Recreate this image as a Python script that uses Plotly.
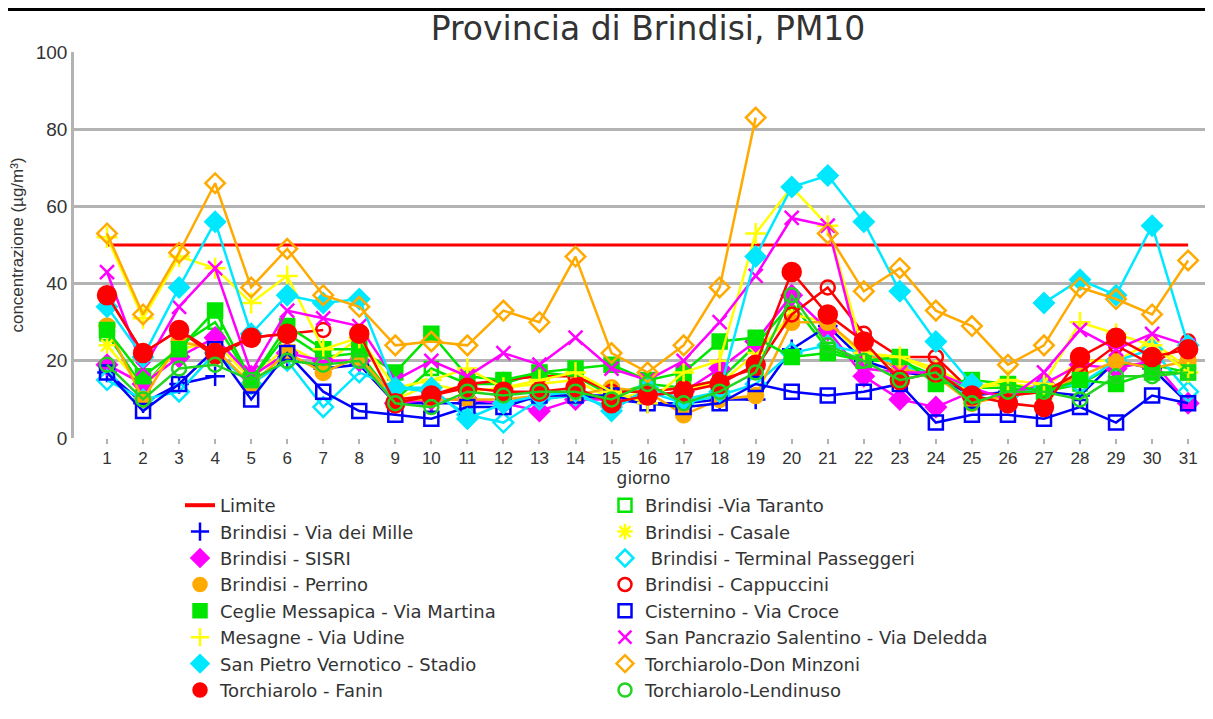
import plotly.graph_objects as go

days = list(range(1, 32))
tick_labels = [str(d) for d in days]
limite = [50] * 31

via_taranto = [27, 13, 24, 30, 15, 27, 21, 22, 10, 18, 14, 14, 17, 16, 11, 14, 13, 15, 24, 35, 23, 20, 20, 16, 13, 13, 12, 14, 19, 19, 17]
via_dei_mille = [17, 9, 14, 16, None, 21, 18, 19, 9, 9, 9, 9, 11, 11, 10, 9, 9, 10, 10, 23, 29, 20, 17, 16, 11, 12, 12, 11, 20, 18, 9]
casale = [24, 13, 23, 25, 15, 24, 19, 26, 10, 14, 12, 13, 14, 15, 10, 12, 13, 14, 22, 32, 30, 21, 21, 18, 13, 14, 13, 20, 20, 25, 18]
sisri = [19, 14, 21, 26, 16, 22, 20, 20, 9, 10, 10, 9, 7, 10, 10, 11, 12, 18, 25, 37, 28, 16, 10, 8, 12, 11, 14, 19, 18, 20, 9]
terminal = [15, 10, 12, 22, 14, 20, 8, 17, 13, 12, 6, 4, 10, 11, 8, 12, 9, 11, 14, 22, 24, 22, 19, 16, 12, 11, 13, 14, 20, 23, 12]
perrino = [29, 10, 25, 23, 14, 22, 17, 21, 10, 10, 10, 10, 11, 11, 13, 12, 6, 10, 11, 30, 30, 22, 18, 16, 9, 11, 12, 16, 20, 18, 20]
cappuccini = [37, 22, 28, 21, 26, 27, 28, None, 10, 11, 14, 15, 16, 16, 12, 12, 13, 15, 18, 32, 39, 27, 21, 21, 12, 11, 12, 17, 24, 19, 25]
ceglie = [28, 16, 23, 33, 15, 29, 23, 23, 17, 27, 16, 15, 17, 18, 19, 15, 17, 25, 26, 21, 22, 20, 21, 14, 15, 14, 12, 15, 14, 17, 17]
cisternino = [17, 7, 14, 23, 10, 22, 12, 7, 6, 5, 8, 8, 11, 11, 11, 9, 8, 9, 14, 12, 11, 12, 14, 4, 6, 6, 5, 8, 4, 11, 9]
mesagne = [52, 31, 47, 44, 35, 42, 23, 26, 13, 15, 18, 13, 15, 17, 12, 9, 17, 20, 53, 65, 55, 22, 21, 17, 13, 15, 14, 30, 27, 24, 17]
san_pancrazio = [43, 18, 34, 44, 17, 33, 31, 29, 15, 20, 16, 22, 19, 26, 18, 15, 20, 30, 42, 57, 55, 18, 17, 17, 13, 10, 17, 28, 23, 27, 24]
san_pietro = [34, 21, 39, 56, 27, 37, 35, 36, 13, 13, 5, 9, 11, 12, 7, 13, 10, 12, 47, 65, 68, 56, 38, 25, 14, None, 35, 41, 37, 55, 24]
don_minzoni = [53, 32, 48, 66, 39, 49, 37, 34, 24, 25, 24, 33, 30, 47, 22, 17, 24, 39, 83, None, 53, 38, 44, 33, 29, 19, 24, 39, 36, 32, 46]
fanin = [37, 22, 28, 22, 26, 27, None, 27, 9, 11, 13, 12, 12, 13, 9, 11, 12, 14, 19, 43, 32, 25, 15, 17, 11, 9, 8, 21, 26, 21, 23]
lendinuso = [19, 10, 18, 19, 15, 20, 19, 20, 9, 8, 12, 11, 12, 12, 10, 14, 9, 12, 17, 37, 24, 20, 15, 17, 9, 12, 12, 10, 16, 16, 17]

RED = "#ff0000"
BLUE = "#0000ff"
MAG = "#ff00ff"
ORA = "#ffaa00"
GRN = "#00e600"
GRN2 = "#22d422"
YEL = "#ffff00"
CYA = "#00e8ff"

# name, values, color, symbol, size
series = [
    ("Brindisi -Via Taranto", via_taranto, GRN, "square-open", 13),
    ("Brindisi - Via dei Mille", via_dei_mille, BLUE, "cross-thin-open", 14),
    ("Brindisi - Casale", casale, YEL, "asterisk-open", 14),
    ("Brindisi - SISRI", sisri, MAG, "diamond", 15),
    (" Brindisi - Terminal Passeggeri", terminal, CYA, "diamond-open", 15),
    ("Brindisi - Perrino", perrino, ORA, "circle", 15),
    ("Brindisi - Cappuccini", cappuccini, RED, "circle-open", 14),
    ("Ceglie Messapica - Via Martina", ceglie, GRN, "square", 14),
    ("Cisternino - Via Croce", cisternino, BLUE, "square-open", 14),
    ("Mesagne - Via Udine", mesagne, YEL, "cross-thin-open", 15),
    ("San Pancrazio Salentino - Via Deledda", san_pancrazio, MAG, "x-thin-open", 14),
    ("San Pietro Vernotico - Stadio", san_pietro, CYA, "diamond", 15),
    ("Torchiarolo-Don Minzoni", don_minzoni, ORA, "diamond-open", 15),
    ("Torchiarolo - Fanin", fanin, RED, "circle", 18),
    ("Torchiarolo-Lendinuso", lendinuso, GRN2, "circle-open", 14),
]

fig = go.Figure()
fig.add_trace(go.Scatter(x=days, y=limite, mode="lines", line=dict(color=RED, width=3),
                         showlegend=False, hoverinfo="skip"))
for name, vals, col, sym, size in series:
    fig.add_trace(go.Scatter(
        x=days, y=vals, mode="lines+markers", name=name,
        line=dict(color=col, width=2.5),
        marker=dict(symbol=sym, size=size, color=col, line=dict(color=col, width=2.5)),
        showlegend=False))

# legend-only entries (marker only like the original)
fig.add_trace(go.Scatter(x=[None], y=[None], mode="lines", name="Limite",
                         line=dict(color=RED, width=4)))
for name, vals, col, sym, size in series:
    fig.add_trace(go.Scatter(x=[None], y=[None], mode="markers", name=name,
                             marker=dict(symbol=sym, size=13, color=col, line=dict(color=col, width=2.5))))

L, R, T, B = 66, 8, 44, 289
W, H = 1213, 719
pw = W - L - R
ph = H - T - B

def px_x(px):
    return (px - 8 - L) / pw

def px_y(py):
    return (H - B - (py - 8)) / ph

fig.update_layout(
    width=W, height=H,
    margin=dict(l=L, r=R, t=T, b=B, autoexpand=False),
    paper_bgcolor="white", plot_bgcolor="white",
    font=dict(family="Liberation Sans, Arial, sans-serif", color="#333333", size=18),
    title=dict(text="Provincia di Brindisi, PM10", x=(648 - 8) / W, xanchor="center",
               y=1 - (28 - 8) / H, yanchor="middle",
               font=dict(family="DejaVu Sans", size=33, color="#333333")),
    showlegend=True,
    legend=dict(orientation="h", x=px_x(180), xanchor="left", y=px_y(487), yanchor="top",
                entrywidth=380, entrywidthmode="pixels", itemwidth=30,
                font=dict(family="DejaVu Sans", size=18, color="#333333"), bgcolor="rgba(0,0,0,0)",
                traceorder="normal", tracegroupgap=0),
    shapes=[
        dict(type="line", xref="paper", yref="paper", x0=px_x(0), x1=px_x(1213),
             y0=px_y(9.5), y1=px_y(9.5), line=dict(color="black", width=3)),
        dict(type="line", xref="paper", yref="paper", x0=px_x(1.5), x1=px_x(1.5),
             y0=px_y(8), y1=px_y(730), line=dict(color="black", width=3)),
    ],
)
fig.update_xaxes(range=[0.084, 31.69], tickmode="array", tickvals=days, ticktext=tick_labels,
                 showgrid=False, zeroline=False, showline=False,
                 ticks="outside", ticklen=5, tickcolor="#b3b3b3", tickwidth=2,
                 tickfont=dict(size=17, color="#333333"),
                 title=dict(text="giorno", font=dict(family="DejaVu Sans", size=17, color="#333333"), standoff=3))
fig.update_yaxes(range=[0, 100], tickvals=[0, 20, 40, 60, 80, 100],
                 showgrid=True, gridcolor="#b3b3b3", gridwidth=2.5,
                 zeroline=False, showline=True, linecolor="#b3b3b3", linewidth=2.5,
                 ticks="", tickfont=dict(size=19, color="#333333"),
                 title=dict(text="concentrazione (µg/m³)", font=dict(size=17, color="#333333"), standoff=10))

fig.write_html("out.html")
